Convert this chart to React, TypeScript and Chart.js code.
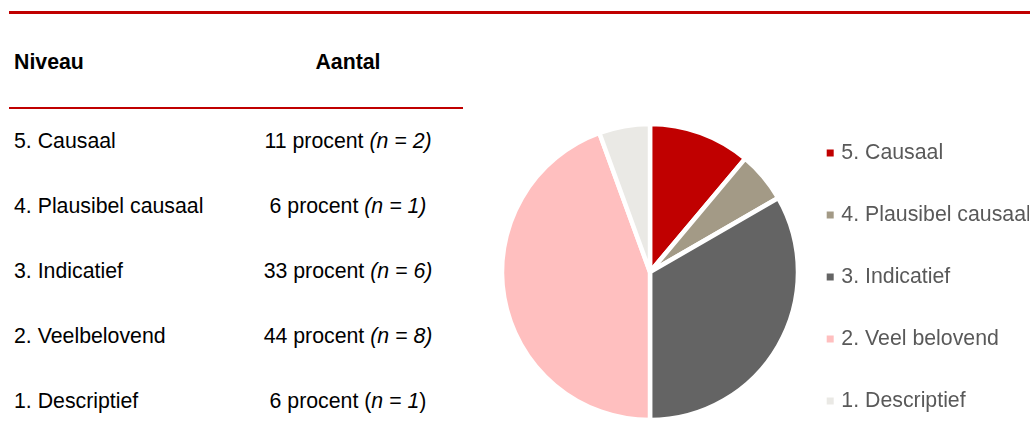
import React, { useEffect, useRef } from "react";
import { Chart, registerables } from "chart.js";

Chart.register(...registerables);

const headerLevel = "Niveau";
const headerCount = "Aantal";
const tableLevels = ["5. Causaal", "4. Plausibel causaal", "3. Indicatief", "2. Veelbelovend", "1. Descriptief"];
const percents = [11, 6, 33, 44, 6];
const counts = [2, 1, 6, 8, 1];
const italicParens = [true, true, true, true, false];
const legendLabels = ["5. Causaal", "4. Plausibel causaal", "3. Indicatief", "2. Veel belovend", "1. Descriptief"];
const sliceColors = ["#C00000", "#A39A86", "#646464", "#FFBFBF", "#EAE9E5"];

const FONT = "'Liberation Sans', Arial, sans-serif";
const RED = "#C00000";
const FS = 21.3;

export default function App() {
  const canvasRef = useRef<HTMLCanvasElement | null>(null);

  useEffect(() => {
    const canvas = canvasRef.current;
    if (!canvas) return;
    const chart = new Chart(canvas, {
      type: "pie",
      data: {
        labels: legendLabels,
        datasets: [
          {
            data: counts,
            backgroundColor: sliceColors,
            borderColor: "#ffffff",
            borderWidth: 4.5,
            hoverOffset: 0,
            radius: 148,
          } as any,
        ],
      },
      options: {
        responsive: false,
        animation: false,
        devicePixelRatio: 1,
        events: [],
        layout: { padding: { left: 31, right: 11, top: 0, bottom: 0 } },
        plugins: {
          tooltip: { enabled: false },
          legend: {
            position: "right",
            align: "center",
            maxWidth: 240,
            title: { display: true, text: "", font: { size: 10, lineHeight: 1 }, padding: 0 },
            labels: {
              usePointStyle: true,
              pointStyle: "rect",
              boxWidth: 1,
              boxHeight: 7,
              padding: 62 - FS,
              color: "#595959",
              font: { family: FONT, size: FS },
              generateLabels: () =>
                legendLabels.map((t, i) => ({
                  text: t,
                  fillStyle: sliceColors[i],
                  strokeStyle: sliceColors[i],
                  lineWidth: 0,
                  pointStyle: "rect",
                  rotation: 0,
                  hidden: false,
                  index: i,
                  fontColor: "#595959",
                })),
            },
          },
        },
      } as any,
    });
    return () => chart.destroy();
  }, []);

  const textBase: React.CSSProperties = {
    position: "absolute",
    fontFamily: FONT,
    fontSize: FS,
    lineHeight: "21px",
    color: "#000",
    whiteSpace: "nowrap",
  };

  return (
    <div
      style={{
        position: "fixed",
        left: 0,
        top: 0,
        width: 1030,
        height: 430,
        overflow: "hidden",
        background: "#fff",
      }}
    >
      <canvas
        ref={canvasRef}
        width={560}
        height={544}
        style={{ position: "absolute", left: 480, top: 0, width: 560, height: 544 }}
      />
      <div style={{ position: "absolute", left: 9, top: 11, width: 1021, height: 3, background: RED }} />
      <div style={{ position: "absolute", left: 9, top: 107, width: 454, height: 2, background: RED }} />
      <div style={{ ...textBase, left: 14, top: 52, fontWeight: "bold" }}>{headerLevel}</div>
      <div style={{ ...textBase, left: 248, width: 200, textAlign: "center", top: 52, fontWeight: "bold" }}>
        {headerCount}
      </div>
      {tableLevels.map((lvl, i) => (
        <React.Fragment key={lvl}>
          <div style={{ ...textBase, left: 14, top: 131 + i * 65 }}>{lvl}</div>
          <div style={{ ...textBase, left: 248, width: 200, textAlign: "center", top: 131 + i * 65 }}>
            {percents[i]} procent{" "}
            {italicParens[i] ? (
              <i>(n = {counts[i]})</i>
            ) : (
              <>
                (<i>n</i> = <i>{counts[i]}</i>)
              </>
            )}
          </div>
        </React.Fragment>
      ))}
    </div>
  );
}
